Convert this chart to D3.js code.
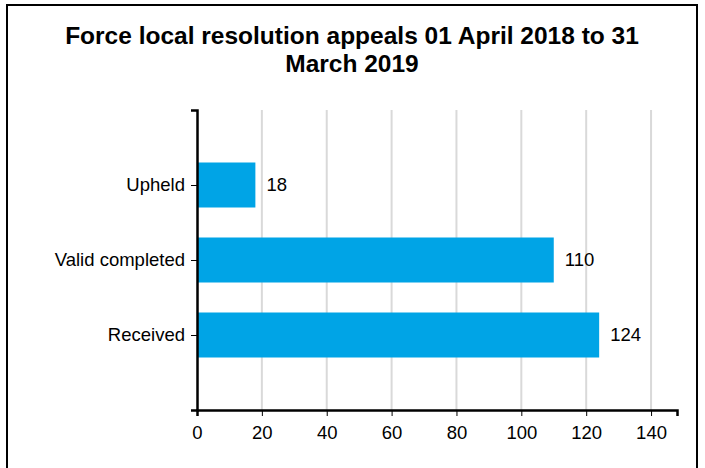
<!doctype html>
<html lang="en">
<head>
  <meta charset="utf-8">
  <title>Force local resolution appeals</title>
  <script src="https://d3js.org/d3.v7.min.js"></script>
  <style>
    body { margin: 0; background: #fff; }
    text { font-family: "Liberation Sans", Arial, sans-serif; }
  </style>
</head>
<body>
  <div id='my_chart'></div>
<script>
  var categories = ['Upheld', 'Valid completed', 'Received'];
  var values = [18, 110, 124];
  var x_ticks = [0, 20, 40, 60, 80, 100, 120, 140];
  var title_lines = ['Force local resolution appeals 01 April 2018 to 31', 'March 2019'];

  var width = 705;
  var height = 468;
  var plot_left = 197, plot_right = 677, plot_top = 110, plot_bottom = 410;
  var bar_color = '#00a4e6';
  var label_size = '18.5px';

  var chart = d3.select('#my_chart').append('svg')
    .attr('width', width)
    .attr('height', height);

  // frame
  chart.append('rect')
    .attr('x', 7).attr('y', 5)
    .attr('width', 690).attr('height', 480)
    .attr('fill', 'none')
    .attr('stroke', '#000')
    .attr('stroke-width', 2);

  // title
  chart.append('text')
    .attr('x', 352).attr('y', 44)
    .attr('text-anchor', 'middle')
    .style('font-size', '24.5px')
    .style('font-weight', 'bold')
    .selectAll('tspan')
      .data(title_lines)
      .enter()
        .append('tspan')
          .attr('x', 352)
          .attr('dy', (d, i) => i ? 28 : 0)
          .text(d => d);

  var x_scale = d3.scaleLinear()
    .domain([0, 148])
    .range([plot_left, plot_right]);
  var y_scale = d3.scalePoint()
    .domain(categories)
    .range([plot_top, plot_bottom])
    .padding(1);
  var bar_h = 45;

  // grid lines
  chart.append('g')
    .selectAll('line')
      .data(x_ticks.slice(1))
      .enter()
        .append('line')
          .attr('x1', d => x_scale(d)).attr('x2', d => x_scale(d))
          .attr('y1', plot_top).attr('y2', plot_bottom)
          .attr('stroke', '#d9d9d9')
          .attr('stroke-width', 2);

  // bars
  var bar_group = chart.append('g')
    .selectAll('g')
      .data(values)
      .enter()
        .append('g');
  bar_group.append('rect')
    .attr('x', x_scale(0))
    .attr('y', (d, i) => y_scale(categories[i]) - bar_h / 2)
    .attr('width', d => x_scale(d) - x_scale(0))
    .attr('height', bar_h)
    .style('fill', bar_color);
  bar_group.append('text')
    .attr('x', d => x_scale(d) + 11)
    .attr('y', (d, i) => y_scale(categories[i]))
    .attr('dy', '0.35em')
    .style('font-size', label_size)
    .text(d => d);

  // axes
  var x_axis = chart.append('g')
    .attr('transform', 'translate(0,' + plot_bottom + ')')
    .call(d3.axisBottom(x_scale).tickValues(x_ticks).tickSizeOuter(0).tickSize(6).tickPadding(10));
  var y_axis = chart.append('g')
    .attr('transform', 'translate(' + plot_left + ',0)')
    .call(d3.axisLeft(y_scale).tickSize(6).tickSizeOuter(6).tickPadding(6));

  [x_axis, y_axis].forEach(function (ax) {
    ax.select('.domain').attr('stroke', '#000').attr('stroke-width', 2.5);
    ax.selectAll('.tick line').attr('stroke', '#000');
    ax.selectAll('.tick text')
      .attr('fill', '#000')
      .style('font-family', '"Liberation Sans", Arial, sans-serif')
      .style('font-size', label_size);
  });
</script>
</body>
</html>
